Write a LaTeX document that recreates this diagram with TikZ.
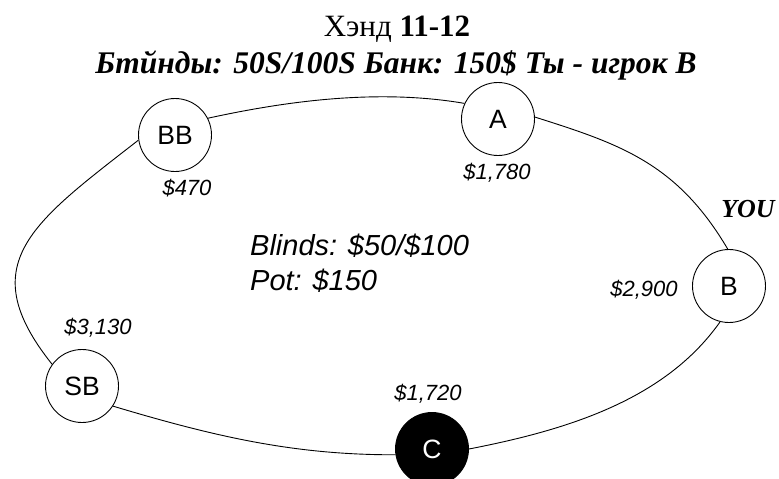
\documentclass[tikz,border=0pt]{standalone}
\usepackage{fontspec}
\setmainfont{Liberation Serif}
\newfontfamily\arialfont{Liberation Sans}
\begin{document}
\begin{tikzpicture}[x=1pt,y=-1pt,
  seat/.style={circle,draw=black,line width=0.9pt,fill=white,minimum size=73pt,inner sep=0pt,
    font=\arialfont\fontsize{26.5}{30}\selectfont},
  dealer/.style={seat,fill=black,text=white},
  stack/.style={font=\arialfont\itshape\fontsize{22}{26}\selectfont,inner sep=0pt},
  info/.style={font=\arialfont\itshape\fontsize{29}{34}\selectfont,inner sep=0pt,anchor=base west},
  rim/.style={line width=0.9pt}]
\useasboundingbox (0,0) rectangle (779,479);
% titles
\node[anchor=base,inner sep=0pt,font=\fontsize{31}{36}\selectfont] (title) at (397,36) {Хэнд \textbf{11-12}};
\node[anchor=base,inner sep=0pt,font=\bfseries\itshape\fontsize{31.5}{36}\selectfont] (sub) at (396,73)
  {Бтйнды: 50S/100S Банк: 150\$ Ты - игрок В};
% seats
\node[seat] (BB) at (175,135) {BB};
\node[seat] (A) at (498,119) {A};
\node[seat] (B) at (729,286) {B};
\node[seat] (SB) at (82,386) {SB};
\node[dealer] (C) at (432,449) {C};
% stacks
\node[stack] (sBB) at (187,188) {\$470};
\node[stack] (sA) at (497,173) {\$1,780};
\node[stack] (sB) at (644,290) {\$2,900};
\node[stack] (sSB) at (98,328) {\$3,130};
\node[stack] (sC) at (428,394) {\$1,720};
% centre info
\node[info] (blinds) at (250,255) {Blinds: \$50/\$100};
\node[info] (pot) at (250,290) {Pot: \$150};
% you
\node[inner sep=0pt,font=\bfseries\itshape\fontsize{26}{32}\selectfont] (you) at (748,209) {YOU};
% table rim
\draw[rim] (BB.27) .. controls (291,100) and (381,89) .. (A.155);
\draw[rim] (A.3) .. controls (620,144) and (677,163) .. (B.92);
\draw[rim] (B.256) .. controls (665,400) and (567,430) .. (C.0);
\draw[rim] (C.189) .. controls (295,455) and (216,437) .. (SB.-33);
\draw[rim] (SB.144) .. controls (-28,264) and (32,223) .. (BB.188);
\end{tikzpicture}
\end{document}
